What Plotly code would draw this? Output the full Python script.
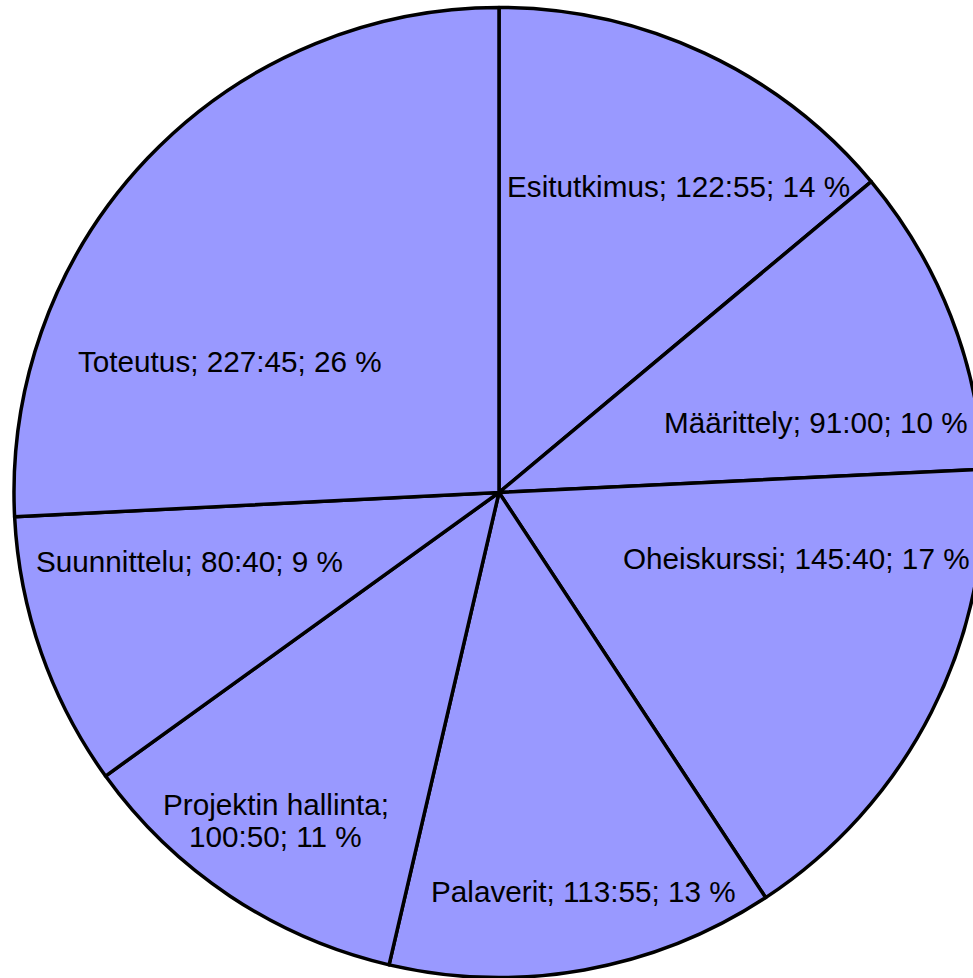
import math
import plotly.graph_objects as go

categories = ["Esitutkimus", "Määrittely", "Oheiskurssi", "Palaverit",
              "Projektin hallinta", "Suunnittelu", "Toteutus"]
durations = ["122:55", "91:00", "145:40", "113:55", "100:50", "80:40", "227:45"]


def to_minutes(s):
    h, m = s.split(":")
    return int(h) * 60 + int(m)


values = [to_minutes(d) for d in durations]
total = sum(values)
percents = [round(v / total * 100) for v in values]

# label lines (long names wrap after the name)
label_lines = []
for c, d, p in zip(categories, durations, percents):
    if len(c) > 15:
        label_lines.append([f"{c};", f"{d}; {p} %"])
    else:
        label_lines.append([f"{c}; {d}; {p} %"])

# ---- layout / styling ----
FIG_W, FIG_H = 1000, 978
M_L, M_R, M_T, M_B = 14, 16, 7, 0
FONT = dict(family="Liberation Sans, Arial, sans-serif", size=29.7, color="black")
LINE_GAP = 32
# label placement relative to each slice's bisector: (radius fraction, angle nudge in deg)
label_place = [(0.732, 5.4), (0.6705, 8.8), (0.629, -14.5), (0.840, -1.85),
               (0.819, 0.56), (0.654, 6.84), (0.616, -17.56)]

fig = go.Figure(go.Pie(
    labels=categories,
    values=values,
    textinfo="none",
    sort=False,
    direction="clockwise",
    rotation=0,
    marker=dict(colors=["#9999ff"] * len(values), line=dict(color="black", width=3.5)),
    hoverinfo="none",
    showlegend=False,
))

plot_w = FIG_W - M_L - M_R
plot_h = FIG_H - M_T - M_B
radius = min(plot_w, plot_h) / 2
cx = M_L + plot_w / 2
cy = M_T + plot_h / 2

annotations = []
cum = 0.0
for v, lines, (frac, nudge) in zip(values, label_lines, label_place):
    mid = (cum + v / 2) / total * 360.0
    cum += v
    ang = math.radians(mid + nudge)
    px = cx + frac * radius * math.sin(ang)
    py = cy - frac * radius * math.cos(ang)
    n = len(lines)
    for i, line in enumerate(lines):
        annotations.append(dict(
            text=line,
            xref="paper", yref="paper",
            x=(px - M_L) / plot_w,
            y=(FIG_H - M_B - py) / plot_h,
            xanchor="center", yanchor="middle",
            yshift=((n - 1) / 2 - i) * LINE_GAP,
            showarrow=False,
            font=FONT,
        ))

fig.update_layout(
    width=FIG_W, height=FIG_H,
    margin=dict(l=M_L, r=M_R, t=M_T, b=M_B, autoexpand=False),
    paper_bgcolor="white",
    plot_bgcolor="white",
    annotations=annotations,
)

fig.write_html(
    "out.html",
    config={"displayModeBar": False},
    post_script="document.documentElement.style.overflow='hidden';"
                "document.body.style.overflow='hidden';"
                "document.body.style.margin='0';",
)
